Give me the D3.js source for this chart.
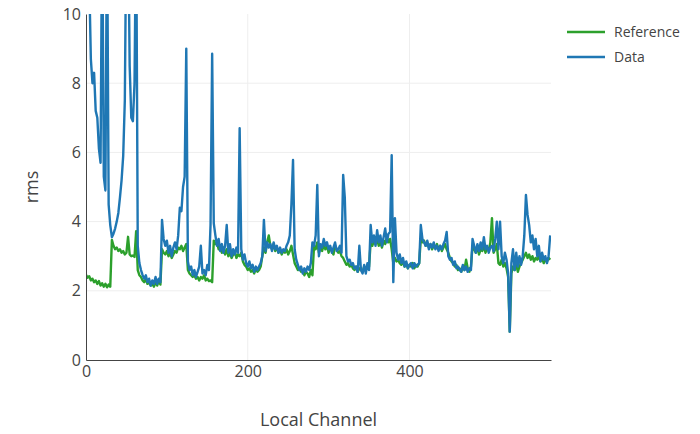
<!DOCTYPE html>
<html>
<head>
<meta charset="utf-8">
<script src="https://cdn.jsdelivr.net/npm/d3@7/dist/d3.min.js"></script>
<style>
    body { margin: 0; background: #fff; }
    text { font-family: "Open Sans", verdana, arial, sans-serif; fill: #444; }
</style>
</head>
<body>
<div id="chart"></div>
<script>
// Channels are sampled every 2 (0, 2, 4 ... 574)
var channel_step = 2;

// Reference rms per channel
var reference = [
    2.46,2.38,2.42,2.30,2.35,2.25,2.30,2.20,2.28,2.15,
    2.22,2.12,2.20,2.10,2.18,2.12,3.47,3.30,3.20,3.25,
    3.15,3.20,3.10,3.15,3.05,3.10,3.56,3.05,3.00,3.02,
    2.98,3.72,2.60,2.45,2.40,2.30,2.25,2.35,2.20,2.25,
    2.15,2.20,2.12,2.25,2.15,2.30,2.18,3.20,3.10,3.05,
    3.15,3.00,3.10,2.95,3.05,3.15,3.10,3.25,3.20,3.30,
    3.15,3.25,3.35,2.60,2.50,2.45,2.40,2.45,2.35,2.40,
    2.30,2.40,2.35,2.45,2.30,2.35,2.28,2.30,2.25,3.45,
    3.35,3.40,3.20,3.30,3.10,3.25,3.05,3.20,3.00,3.10,
    2.95,3.05,3.15,2.95,3.05,3.00,3.10,2.85,2.75,2.70,
    2.60,2.65,2.55,2.60,2.50,2.65,2.55,2.60,2.70,3.00,
    3.25,3.10,3.40,3.60,3.30,3.20,3.35,3.15,3.25,3.10,
    3.20,3.05,3.15,3.10,3.20,3.05,3.15,3.30,3.05,2.80,
    2.70,2.60,2.65,2.55,2.60,2.45,2.55,2.50,2.40,2.60,
    2.45,3.30,3.20,3.40,3.10,3.25,3.15,3.35,3.20,3.30,
    3.10,3.25,3.15,3.05,3.30,3.20,3.10,3.15,3.00,2.95,
    2.85,2.75,2.80,2.70,2.75,2.65,2.60,2.70,2.55,2.65,
    2.60,2.55,2.70,2.60,2.65,2.70,3.40,3.30,3.45,3.35,
    3.50,3.30,3.40,3.25,3.45,3.35,3.55,3.40,3.50,3.20,
    2.80,2.95,2.85,2.90,2.80,2.75,2.85,2.70,2.80,2.65,
    2.75,2.70,2.80,2.65,2.75,2.70,2.80,3.50,3.40,3.45,
    3.30,3.40,3.25,3.35,3.20,3.30,3.25,3.35,3.20,3.30,
    3.15,3.25,3.35,3.20,3.10,2.95,2.85,2.80,2.70,2.75,
    2.60,2.65,2.55,2.70,2.60,2.90,2.65,2.55,2.70,3.30,
    3.20,3.10,3.25,3.05,3.20,3.15,3.30,3.10,3.25,3.15,
    3.40,4.10,3.10,3.20,3.35,2.80,2.75,2.90,2.70,2.80,
    2.65,2.40,0.82,2.50,2.70,2.60,2.75,2.55,2.70,2.80,
    2.90,3.00,3.10,2.95,3.05,2.90,3.00,2.85,2.95,2.90,
    3.00,2.85,2.95,2.80,2.90,2.85,2.95,2.90
];

// Measured rms per channel
var data = [
    15,13,11,8.7,8.0,8.3,7.2,7.0,6.1,5.7,
    13,5.3,4.9,13,4.5,3.9,3.55,3.65,3.8,4.0,
    4.25,4.7,5.2,5.9,7.5,13,13,8.5,7.0,6.9,
    8.0,13,3.3,2.8,2.6,2.45,2.35,2.45,2.25,2.35,
    2.15,2.3,2.2,2.4,2.2,2.35,2.25,4.05,3.5,3.3,
    3.45,3.1,3.3,3.0,3.25,3.4,3.2,3.6,4.4,4.3,
    5.0,5.3,9.0,2.85,2.6,2.7,2.45,2.6,2.4,2.55,
    2.7,3.3,2.5,2.6,2.45,2.75,2.6,3.9,8.85,3.95,
    3.6,3.3,3.5,3.15,3.35,3.1,3.3,3.9,3.1,3.35,
    3.0,3.2,3.05,3.25,3.1,6.7,3.2,2.9,3.05,2.8,
    2.7,2.85,2.65,2.75,2.55,2.7,2.6,2.7,2.8,3.0,
    4.05,3.15,3.4,3.25,3.35,3.15,3.4,3.2,3.3,3.1,
    3.25,3.1,3.2,3.15,3.3,3.4,3.6,4.5,5.78,3.2,
    2.9,2.75,2.6,2.7,2.5,2.65,2.55,2.7,2.6,2.8,
    3.4,3.3,3.6,5.06,3.0,3.35,3.25,3.5,3.3,3.4,
    3.2,3.3,3.1,3.25,3.4,3.15,3.2,3.3,3.1,5.35,
    4.7,3.0,2.85,2.9,2.75,2.8,2.65,2.7,2.55,3.3,
    2.6,2.5,2.75,2.5,2.8,2.6,3.9,3.4,3.6,3.3,
    3.75,3.4,3.6,3.3,3.55,3.8,3.4,3.65,3.7,5.92,
    2.25,4.1,3.1,2.9,3.05,2.8,2.95,2.7,2.85,2.65,
    2.75,2.8,2.65,2.8,2.7,2.75,2.8,3.9,3.5,3.4,
    3.3,3.45,3.2,3.35,3.25,3.4,3.2,3.3,3.15,3.3,
    3.2,3.35,3.45,3.7,3.0,2.9,2.95,2.75,2.85,2.65,
    2.7,2.6,2.55,2.75,2.6,2.7,2.55,2.65,2.6,3.5,
    3.3,3.1,3.35,3.15,3.4,3.2,3.55,3.2,3.3,3.1,
    3.25,3.3,3.15,3.5,4.0,3.2,4.0,3.0,2.8,3.1,
    2.9,2.5,0.82,2.8,3.2,2.6,3.1,2.7,3.0,2.75,
    3.0,3.6,4.77,4.2,3.9,3.4,3.6,3.2,3.5,3.0,
    3.3,2.85,3.1,2.9,3.0,2.8,3.0,3.6
];

var series_names = ["Reference", "Data"];
var series_colors = ["#2ca02c", "#1f77b4"];
var x_ticks = [0, 200, 400];
var y_ticks = [0, 2, 4, 6, 8, 10];

var width = 700, height = 434;
var margin = {top: 14, right: 149, bottom: 74, left: 86};

var svg = d3.select("#chart").append("svg")
    .attr("width", width)
    .attr("height", height);

var x = d3.scaleLinear().domain([0, 575]).range([margin.left, width - margin.right]);
var y = d3.scaleLinear().domain([0, 10]).range([height - margin.bottom, margin.top]);

// Grid lines
svg.append("g").selectAll("line").data(y_ticks.slice(1, -1)).enter().append("line")
    .attr("x1", x(0)).attr("x2", x(575))
    .attr("y1", function (d) { return y(d); }).attr("y2", function (d) { return y(d); })
    .attr("stroke", "#eee");
svg.append("g").selectAll("line").data(x_ticks.slice(1)).enter().append("line")
    .attr("x1", function (d) { return x(d); }).attr("x2", function (d) { return x(d); })
    .attr("y1", y(0)).attr("y2", y(10))
    .attr("stroke", "#eee");

// Clip lines to the plot area
svg.append("clipPath").attr("id", "plot-clip").append("rect")
    .attr("x", x(0)).attr("y", y(10))
    .attr("width", x(575) - x(0)).attr("height", y(0) - y(10));

var line = d3.line()
    .x(function (d, i) { return x(i * channel_step); })
    .y(function (d) { return y(d); });

var lines = svg.append("g").attr("clip-path", "url(#plot-clip)");
[reference, data].forEach(function (values, k) {
    lines.append("path")
        .datum(values)
        .attr("d", line)
        .attr("fill", "none")
        .attr("stroke", series_colors[k])
        .attr("stroke-width", 2.4)
        .attr("stroke-linejoin", "round");
});

// Axes
var x_axis = d3.axisBottom(x).tickValues(x_ticks).tickSize(0).tickPadding(6);
var y_axis = d3.axisLeft(y).tickValues(y_ticks).tickSize(0).tickPadding(5);

var gx = svg.append("g").attr("transform", "translate(0," + y(0) + ")").call(x_axis);
var gy = svg.append("g").attr("transform", "translate(" + x(0) + ",0)").call(y_axis);

[gx, gy].forEach(function (g) {
    g.select(".domain").attr("stroke", "#444");
    g.selectAll("text").style("font-size", "16px").attr("fill", "#444");
});

// Axis titles
svg.append("text")
    .attr("x", (x(0) + x(575)) / 2).attr("y", 426)
    .attr("text-anchor", "middle")
    .style("font-size", "18px")
    .text("Local Channel");

svg.append("text")
    .attr("transform", "translate(38," + y(5) + ") rotate(-90)")
    .attr("text-anchor", "middle")
    .style("font-size", "18px")
    .text("rms");

// Legend
var legend = svg.append("g").attr("transform", "translate(567,32)");
series_names.forEach(function (name, k) {
    var item = legend.append("g").attr("transform", "translate(0," + (k * 25) + ")");
    item.append("line")
        .attr("x1", 0).attr("x2", 38)
        .attr("stroke", series_colors[k])
        .attr("stroke-width", 2.4);
    item.append("text")
        .attr("x", 47).attr("y", 5)
        .style("font-size", "14px")
        .text(name);
});
</script>
</body>
</html>
